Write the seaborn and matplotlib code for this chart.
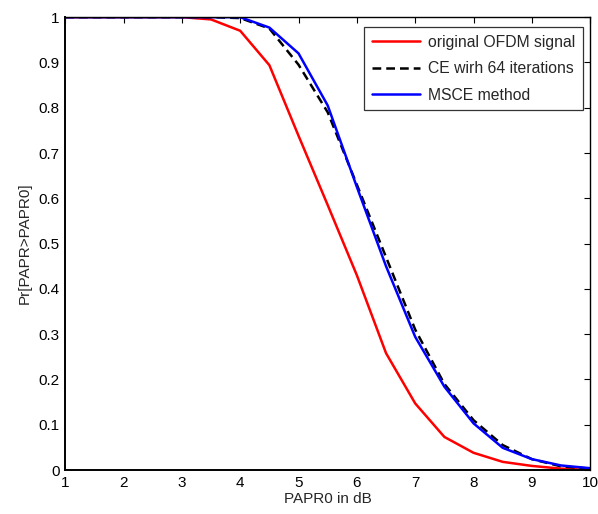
import numpy as np
import pandas as pd
import matplotlib
matplotlib.use("Agg")
import matplotlib.pyplot as plt
import seaborn as sns

# PAPR0 grid (dB) and CCDF values
papr0 = [1, 1.5, 2, 2.5, 3, 3.5, 4, 4.5, 5, 5.5, 6, 6.5, 7, 7.5, 8, 8.5, 9, 9.5, 10]
original = [1, 1, 1, 1, 1, 0.995, 0.97, 0.894, 0.738, 0.585, 0.43, 0.258, 0.147, 0.073,
            0.038, 0.018, 0.009, 0.003, 0.0]
ce64 = [1, 1, 1, 1, 1, 1, 0.998, 0.975, 0.895, 0.79, 0.63, 0.47, 0.31, 0.19,
        0.11, 0.055, 0.024, 0.008, 0.003]
msce = [1, 1, 1, 1, 1, 1, 1, 0.977, 0.92, 0.805, 0.625, 0.45, 0.294, 0.184,
        0.103, 0.049, 0.024, 0.01, 0.004]
labels = ["original OFDM signal", "CE wirh 64 iterations", "MSCE method"]

sns.set_style("white")
plt.rcParams["font.family"] = ["Liberation Sans", "DejaVu Sans"]

fig = plt.figure(figsize=(5.98, 5.14), dpi=100)
ax = fig.add_axes([0.109, 0.0856, 0.878, 0.881])

sns.lineplot(x=papr0, y=original, ax=ax, color="#ff0000", lw=1.8, label=labels[0])
sns.lineplot(x=papr0, y=ce64, ax=ax, color="black", lw=1.8, linestyle=(0, (3.5, 2)), label=labels[1])
sns.lineplot(x=papr0, y=msce, ax=ax, color="#0000ff", lw=1.8, label=labels[2])

ax.set_xlim(1, 10)
ax.set_ylim(0, 1)
ax.set_xticks(range(1, 11))
ax.set_yticks(np.arange(0, 1.01, 0.1))
ax.set_yticklabels(["0", "0.1", "0.2", "0.3", "0.4", "0.5", "0.6", "0.7", "0.8", "0.9", "1"])
ax.tick_params(direction="in", top=True, right=True, length=4, width=0.8,
               labelsize=11, colors="black", pad=4)
for s in ax.spines.values():
    s.set_color("black")
    s.set_linewidth(1.0)
ax.spines["left"].set_linewidth(1.4)
ax.spines["bottom"].set_linewidth(1.4)

ax.set_xlabel("PAPR0 in dB", fontsize=11, labelpad=2)
ax.set_ylabel("Pr[PAPR>PAPR0]", fontsize=11, labelpad=5)

leg = ax.legend(loc="upper right", bbox_to_anchor=(0.987, 0.978), fontsize=11.3,
                frameon=True, fancybox=False, edgecolor="black", borderaxespad=0.0,
                handlelength=3.1, handletextpad=0.5, labelspacing=0.72, borderpad=0.5)
leg.get_frame().set_linewidth(0.9)

fig.savefig("out.png", dpi=100)
